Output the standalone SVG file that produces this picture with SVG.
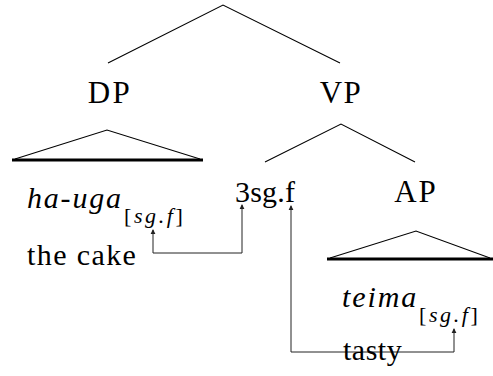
<svg xmlns="http://www.w3.org/2000/svg" width="493" height="376" viewBox="0 0 493 376">
<style>
.e{stroke:#000;stroke-width:1.1;fill:none}
.b{stroke:#000;stroke-width:3;fill:none}
.a{stroke:#222;stroke-width:1;fill:none}
.h{fill:#222}
</style>
<g id="root">
<path class="e" d="M108,63 L223,5 L340,63"/>
</g>
<g id="DP">
<text x="110" y="103" text-anchor="middle" font-family="Liberation Serif, serif" font-size="31" letter-spacing="2.5">DP</text>
<path class="e" d="M15,159 L107,130 L200,159"/>
<path class="b" d="M12,160 H203"/>
</g>
<g id="haUga">
<text x="27" y="208" font-family="Liberation Serif, serif" font-size="30" font-style="italic" letter-spacing="1.8">ha-uga</text>
<text x="124" y="223" font-family="Liberation Serif, serif" font-size="22" font-style="italic" letter-spacing="2.6"><tspan font-style="normal">[</tspan>sg.f<tspan font-style="normal">]</tspan></text>
</g>
<g id="theCake">
<text x="27" y="265" font-family="Liberation Serif, serif" font-size="30" letter-spacing="1.4">the cake</text>
</g>
<g id="VP">
<text x="341" y="103" text-anchor="middle" font-family="Liberation Serif, serif" font-size="31" letter-spacing="1.5">VP</text>
<path class="e" d="M265,162 L341,124 L415,162"/>
</g>
<g id="agr">
<text x="235" y="202" font-family="Liberation Serif, serif" font-size="30" letter-spacing="0.2">3sg.f</text>
</g>
<g id="AP">
<text x="416" y="202" text-anchor="middle" font-family="Liberation Serif, serif" font-size="31" letter-spacing="2">AP</text>
<path class="e" d="M330,258 L416,231 L490,258"/>
<path class="b" d="M327,259 H493"/>
</g>
<g id="teima">
<text x="342" y="307" font-family="Liberation Serif, serif" font-size="30" font-style="italic" letter-spacing="1.9">teima</text>
<text x="419" y="322" font-family="Liberation Serif, serif" font-size="22" font-style="italic" letter-spacing="2.6"><tspan font-style="normal">[</tspan>sg.f<tspan font-style="normal">]</tspan></text>
</g>
<g id="connectors">
<path class="a" d="M153,230 V253 H242 V205 M291,206 V352 H454 V329"/>
<path class="h" d="M153,229 l-2.4,5 h4.8 Z M242,204 l-2.4,5 h4.8 Z M291,205 l-2.4,5 h4.8 Z M454,328 l-2.4,5 h4.8 Z"/>
</g>
<g id="tasty">
<text x="343" y="360" font-family="Liberation Serif, serif" font-size="30" letter-spacing="0.5">tasty</text>
</g>
</svg>
